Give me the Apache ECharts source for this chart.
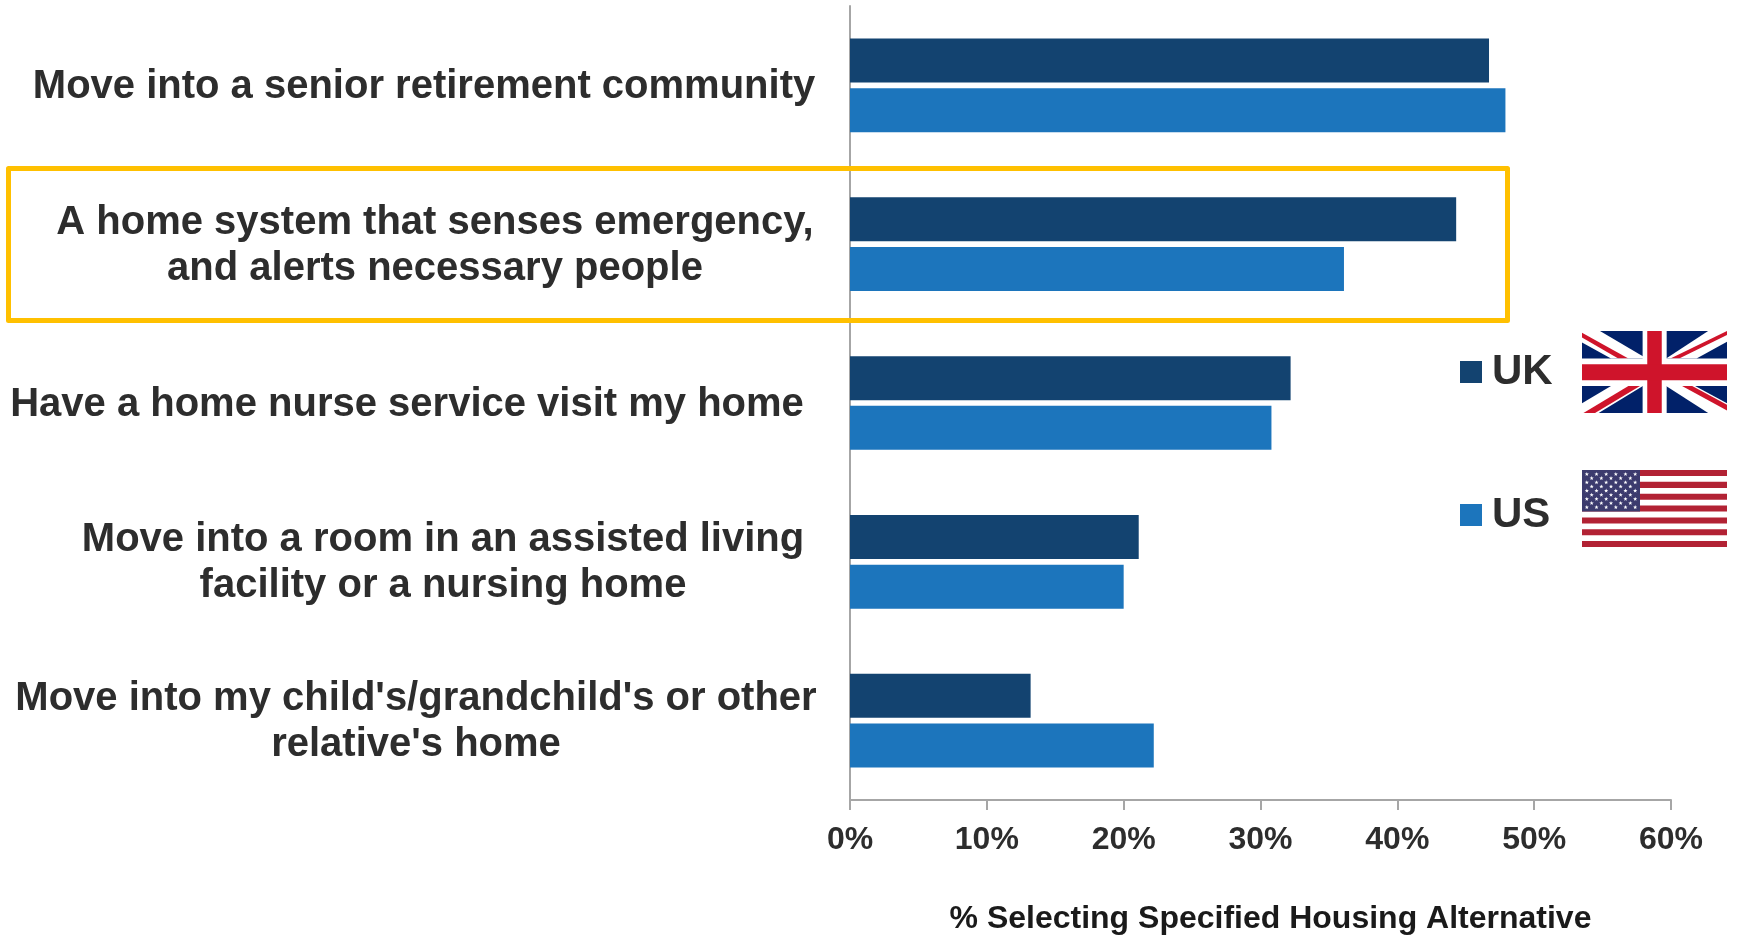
<!DOCTYPE html>
<html>
<head>
<meta charset="utf-8">
<style>html,body{margin:0;padding:0;background:#fff}#chart{width:1747px;height:936px}</style>
<script src="https://cdn.jsdelivr.net/npm/echarts@6/dist/echarts.min.js"></script>
</head>
<body>
<div id="chart"></div>
<script>
// Housing alternatives selected by respondents, UK and US (percent)
const categories = [
  "Move into a senior retirement community",
  "A home system that senses emergency,\nand alerts necessary people",
  "Have a home nurse service visit my home",
  "Move into a room in an assisted living\nfacility or a nursing home",
  "Move into my child's/grandchild's or other\nrelative's home"
];
const ukValues = [46.7, 44.3, 32.2, 21.1, 13.2];
const usValues = [47.9, 36.1, 30.8, 20.0, 22.2];
const xTicks = [0, 10, 20, 30, 40, 50, 60];
const labelShift = [19, 8, 36, 0, 27];

const NAVY = '#134370', BLUE = '#1c75bc', TEXT = '#2d2d2d';
const FLAG_RED = '#cf142b', FLAG_BLUE = '#012169', US_RED = '#b22234', US_BLUE = '#3c3b6e';

// Category label styles: each label is centred on its own column
const labelFont = {fontFamily: 'Liberation Sans', fontWeight: 'bold', fontSize: 40, color: TEXT, lineHeight: 46};
const rich = {};
labelShift.forEach((d, i) => { rich['c' + i] = Object.assign({padding: [3, 2 * d, 0, 0]}, labelFont); });

function unionJack(x, y, w, h) {
  const poly = (pts, fill) => ({type: 'polygon', shape: {points: pts.map(p => [x + p[0] * w, y + p[1] * h])}, style: {fill}, z: 5});
  const rect = (a, b, c, d, fill) => ({type: 'rect', shape: {x: x + a * w, y: y + b * h, width: c * w, height: d * h}, style: {fill}, z: 5});
  return [
    rect(0, 0, 1, 1, FLAG_BLUE),
    // white diagonals
    poly([[0.124, 0], [0.446, 0.335], [0.2, 0.335], [0, 0.14], [0, 0]], '#fff'),
    poly([[0.87, 0], [0.58, 0.335], [0.79, 0.335], [1, 0.13], [1, 0]], '#fff'),
    poly([[0.2, 0.67], [0.42, 0.67], [0.115, 1], [0, 1], [0, 0.88]], '#fff'),
    poly([[0.58, 0.67], [0.78, 0.67], [1, 0.88], [1, 1], [0.87, 1]], '#fff'),
    // red diagonals
    poly([[0, 0.02], [0.32, 0.335], [0.25, 0.335], [0, 0.08]], FLAG_RED),
    poly([[1, 0], [0.61, 0.335], [0.67, 0.335], [1, 0.05]], FLAG_RED),
    poly([[0.01, 1], [0.32, 0.67], [0.4, 0.67], [0.09, 1]], FLAG_RED),
    poly([[0.69, 0.67], [0.76, 0.67], [1, 0.9], [1, 0.97]], FLAG_RED),
    // upright cross
    rect(0.418, 0, 0.166, 1, '#fff'),
    rect(0, 0.335, 1, 0.335, '#fff'),
    rect(0.45, 0, 0.1, 1, FLAG_RED),
    rect(0, 0.405, 1, 0.195, FLAG_RED)
  ];
}

function starsAndStripes(x, y, w, h) {
  const out = [{type: 'rect', shape: {x, y, width: w, height: h}, style: {fill: '#fff'}, z: 5}];
  const sh = h / 13;
  for (let i = 0; i < 13; i += 2) {
    out.push({type: 'rect', shape: {x, y: y + i * sh, width: w, height: sh * 1.02}, style: {fill: US_RED}, z: 5});
  }
  const cw = w * 0.4, ch = sh * 7;
  out.push({type: 'rect', shape: {x, y, width: cw, height: ch}, style: {fill: US_BLUE}, z: 6});
  for (let row = 0; row < 9; row++) {
    const n = row % 2 ? 5 : 6;
    for (let col = 0; col < n; col++) {
      const cx = x + cw * (((row % 2 ? 2 : 1) + col * 2) / 12);
      const cy = y + ch * ((row + 1) / 10);
      const pts = [];
      for (let k = 0; k < 10; k++) {
        const rad = k % 2 ? 0.9 : 2.2, a = -Math.PI / 2 + k * Math.PI / 5;
        pts.push([cx + rad * Math.cos(a), cy + rad * Math.sin(a)]);
      }
      out.push({type: 'polygon', shape: {points: pts}, style: {fill: '#fff'}, z: 7});
    }
  }
  return out;
}

const chart = echarts.init(document.getElementById('chart'), null, {renderer: 'canvas'});
chart.setOption({
  animation: false,
  backgroundColor: '#fff',
  grid: {left: 850, right: 1747 - 1671, top: 6, bottom: 936 - 800, containLabel: false, outerBoundsMode: 'none'},
  legend: {
    orient: 'vertical', left: 1460, top: 349, padding: 0,
    itemWidth: 22, itemHeight: 22, itemGap: 97,
    icon: 'rect',
    data: ['UK', 'US'],
    textStyle: {fontFamily: 'Liberation Sans', fontWeight: 'bold', fontSize: 42, lineHeight: 44, color: TEXT, padding: [2, 0, 0, 5]}
  },
  xAxis: {
    type: 'value', min: xTicks[0], max: xTicks[xTicks.length - 1], interval: 10,
    name: '% Selecting Specified Housing Alternative',
    nameLocation: 'middle', nameGap: 103,
    nameTextStyle: {fontFamily: 'Liberation Sans', fontWeight: 'bold', fontSize: 32, color: '#1a1a1a', padding: [0, 0, 0, 20]},
    axisLine: {show: true, lineStyle: {color: '#a6a6a6', width: 2}},
    axisTick: {show: true, length: 10, lineStyle: {color: '#a6a6a6', width: 2}},
    axisLabel: {formatter: '{value}%', margin: 24, fontFamily: 'Liberation Sans', fontWeight: 'bold', fontSize: 32, color: TEXT},
    splitLine: {show: false}
  },
  yAxis: {
    type: 'category', inverse: true, data: categories,
    axisLine: {show: true, lineStyle: {color: '#a6a6a6', width: 2}},
    axisTick: {show: false},
    axisLabel: {
      margin: 407, align: 'center', interval: 0,
      formatter: (v, i) => v.split('\n').map(s => `{c${i}|${s}}`).join('\n'),
      rich
    }
  },
  series: [
    {name: 'UK', type: 'bar', data: ukValues, barWidth: 44, barGap: '13%', itemStyle: {color: NAVY}},
    {name: 'US', type: 'bar', data: usValues, barWidth: 44, itemStyle: {color: BLUE}}
  ],
  graphic: [
    {type: 'rect', z: 3, shape: {x: 8.5, y: 168.5, width: 1499, height: 152}, style: {fill: 'none', stroke: '#ffc000', lineWidth: 5, lineJoin: 'round'}},
    ...unionJack(1582, 331, 145, 82),
    ...starsAndStripes(1582, 470, 145, 77)
  ]
});
</script>
</body>
</html>
